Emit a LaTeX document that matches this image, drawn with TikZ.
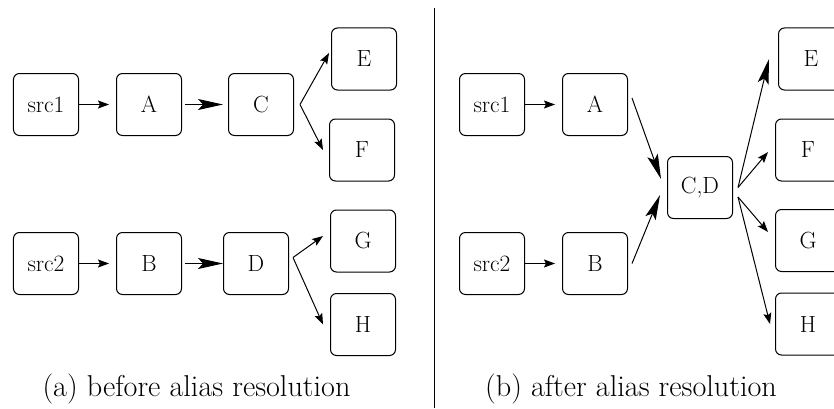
\documentclass[tikz,border=0pt]{standalone}
\usepackage{fontspec}
\usepackage{tikz}
\usetikzlibrary{arrows.meta}
\usetikzlibrary{positioning}

\begin{document}
\begin{tikzpicture}[
      x=1bp, y=1bp,
      block/.style ={rectangle, draw, rounded corners=6bp, line width=1bp, minimum width=65bp, minimum height=62bp, font=\fontsize{23.5}{28}\selectfont},
      link/.style ={-{Stealth[length=11bp, width=8bp, inset=2bp]}, line width=1bp},
      heavylink/.style ={-{Stealth[length=25bp, width=11bp, inset=5bp]}, line width=1bp},
      caption/.style ={anchor=base, font=\fontsize{30.3}{36}\selectfont},
      node distance=37bp
    ]
    \useasboundingbox (0,0) rectangle (834,408) ;

    % (a) before
    \node [block] (src1) at (46,303.5) {src1} ;
    \node [block] (a) [right=of src1] {A} ;
    \node [block] (c) [right=46bp of a] {C} ;
    \node [block] (e) [right=37bp of c, yshift=45.5bp] {E} ;
    \node [block] (f) [right=35bp of c, yshift=-45.5bp] {F} ;
    \node [block] (src2) [below=96bp of src1] {src2} ;
    \node [block] (b) [right=of src2] {B} ;
    \node [block] (d) [right=41bp of b] {D} ;
    \node [block] (g) [right=41bp of d, yshift=22.5bp] {G} ;
    \node [block] (h) [right=41bp of d, yshift=-61bp] {H} ;

    \draw [link, shorten >=7bp] (src1) -- (a) ;
    \draw [heavylink, shorten <=3bp, shorten >=5bp] (a) -- (c) ;
    \draw [link] ([xshift=6bp]c.east) -- ([xshift=-2bp, yshift=6bp]e.west) ;
    \draw [link] ([xshift=6bp]c.east) -- ([xshift=-6bp]f.west) ;
    \draw [link, shorten >=7bp] (src2) -- (b) ;
    \draw [heavylink, shorten <=3bp] (b) -- (d) ;
    \draw [link] ([xshift=4bp, yshift=6bp]d.east) -- ([xshift=-7bp, yshift=5bp]g.west) ;
    \draw [link] ([xshift=4bp, yshift=6bp]d.east) -- ([xshift=-7bp]h.west) ;

    \node [caption] (capa) at (196.5,11.4) {(a) before alias resolution} ;

    \draw [line width=1bp] (434,0) -- (434,400) ;

    % (b) after
    \node [block] (rsrc1) at (492,303.5) {src1} ;
    \node [block] (ra) [right=of rsrc1] {A} ;
    \node [block] (cd) [right=39bp of ra, yshift=-83bp] {C,D} ;
    \node [block] (re) [right=45bp of cd, yshift=128.5bp] {E} ;
    \node [block] (rf) [right=42bp of cd, yshift=37.5bp] {F} ;
    \node [block] (rg) [right=42bp of cd, yshift=-53bp] {G} ;
    \node [block] (rh) [right=42bp of cd, yshift=-136.5bp] {H} ;
    \node [block] (rsrc2) [below=96bp of rsrc1] {src2} ;
    \node [block] (rb) [right=of rsrc2] {B} ;

    \draw [link, shorten >=7bp] (rsrc1) -- (ra) ;
    \draw [link, shorten >=7bp] (rsrc2) -- (rb) ;
    \draw [heavylink] ([xshift=4bp, yshift=6.5bp]ra.east) -- ([xshift=-6bp, yshift=8.5bp]cd.west) ;
    \draw [heavylink] ([xshift=4bp]rb.east) -- ([xshift=-7bp, yshift=-7.5bp]cd.west) ;
    \draw [heavylink] ([xshift=5bp]cd.east) -- ([xshift=-9bp]re.west) ;
    \draw [link] ([xshift=5bp]cd.east) -- ([xshift=-7bp, yshift=-2bp]rf.west) ;
    \draw [link] ([xshift=5bp, yshift=-9.5bp]cd.east) -- ([xshift=-7bp, yshift=8.5bp]rg.west) ;
    \draw [link] ([xshift=5bp, yshift=-9.5bp]cd.east) -- ([xshift=-5bp]rh.west) ;

    \node [caption] (capb) at (631,11.4) {(b) after alias resolution} ;
  \end{tikzpicture}
\end{document}
